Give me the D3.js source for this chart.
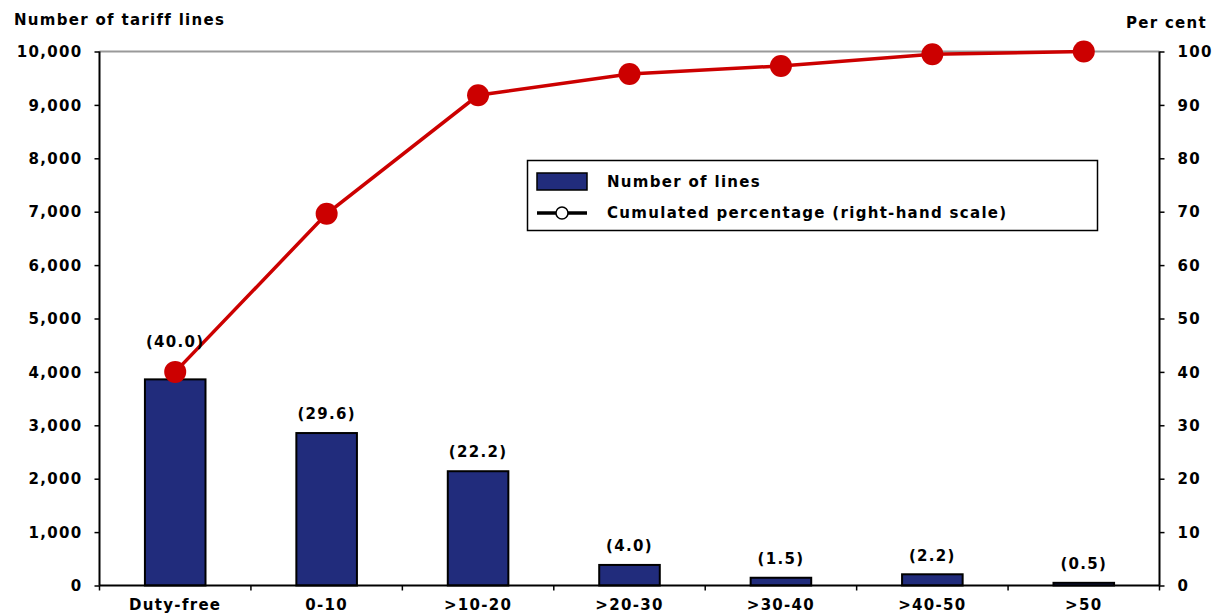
<!DOCTYPE html>
<html><head><meta charset="utf-8">
<script src="https://cdn.jsdelivr.net/npm/d3@7"></script>
<style>
body{margin:0;background:#fff;}
text{font-family:"DejaVu Sans",Verdana,sans-serif;font-weight:bold;font-size:15px;letter-spacing:1.3px;fill:#000;}
</style></head>
<body><svg id="c" width="1215" height="615"></svg>
<script>
const categories = ["Duty-free","0-10",">10-20",">20-30",">30-40",">40-50",">50"];
const lines = [3860, 2855, 2140, 385, 145, 210, 50];
const shares = ["(40.0)","(29.6)","(22.2)","(4.0)","(1.5)","(2.2)","(0.5)"];
const cumulated = [40.0, 69.6, 91.8, 95.8, 97.3, 99.5, 100.0];
const leftTicks = [0,1000,2000,3000,4000,5000,6000,7000,8000,9000,10000];
const rightTicks = [0,10,20,30,40,50,60,70,80,90,100];

const svg = d3.select("#c");
const L = 99.5, R = 1159.5, T = 51.5, B = 585.5;
const x = d3.scaleBand().domain(categories).range([L, R]).paddingInner(0.6).paddingOuter(0.3);
const xb = d3.scaleBand().domain(categories).range([L, R]);
const yL = d3.scaleLinear().domain([0, 10000]).range([B, T]);
const yR = d3.scaleLinear().domain([0, 100]).range([B, T]);
const navy = "#212C7C", red = "#CC0000";

// top border
svg.append("line").attr("x1", L).attr("x2", R).attr("y1", T).attr("y2", T).attr("stroke", "#999").attr("stroke-width", 2);

// bars
svg.selectAll("rect.bar").data(categories).join("rect").attr("class","bar")
  .attr("x", d => x(d)).attr("width", x.bandwidth())
  .attr("y", (d,i) => yL(lines[i])).attr("height", (d,i) => B - yL(lines[i]))
  .attr("fill", navy).attr("stroke", "#000").attr("stroke-width", 2);

// axes
const axL = svg.append("g").attr("transform", `translate(${L},0)`)
  .call(d3.axisLeft(yL).tickValues(leftTicks).tickFormat(d3.format(",")).tickSize(5).tickPadding(12));
const axR = svg.append("g").attr("transform", `translate(${R},0)`)
  .call(d3.axisRight(yR).tickValues(rightTicks).tickSize(5).tickPadding(13));
const axB = svg.append("g").attr("transform", `translate(0,${B})`)
  .call(d3.axisBottom(xb).tickSize(0).tickPadding(14));
[axL, axR, axB].forEach(g => {
  g.selectAll(".domain").attr("stroke", "#000").attr("stroke-width", 2);
  g.selectAll(".tick line").attr("stroke", "#000").attr("stroke-width", 1.5);
  g.selectAll("text").attr("font-size", null).attr("font-family", null).attr("fill", "#000");
});
axL.select(".domain").attr("d", `M0,${T}V${B}`);
axR.select(".domain").attr("d", `M0,${T}V${B}`);
axB.select(".domain").attr("d", `M${L},0H${R}`);
axL.selectAll(".tick text").attr("dy", "0.35em");
axR.selectAll(".tick text").attr("dy", "0.35em");
// category boundary ticks
svg.append("g").selectAll("line").data(d3.range(categories.length + 1)).join("line")
  .attr("x1", i => L + i * xb.step()).attr("x2", i => L + i * xb.step())
  .attr("y1", B).attr("y2", B + 5).attr("stroke", "#000").attr("stroke-width", 1.5);

// line + markers
const cx = d => x(d) + x.bandwidth() / 2;
svg.append("path").datum(categories)
  .attr("d", d3.line().x(d => cx(d)).y((d,i) => yR(cumulated[i])))
  .attr("fill", "none").attr("stroke", red).attr("stroke-width", 3.5);
const r = 11;
svg.selectAll("circle.pt").data(categories).join("circle").attr("class","pt")
  .attr("cx", d => cx(d)).attr("cy", (d,i) => yR(cumulated[i])).attr("r", r).attr("fill", red);

// share labels
svg.selectAll("text.share").data(categories).join("text").attr("class","share")
  .attr("x", d => cx(d)).attr("text-anchor", "middle").attr("dy", "0.35em")
  .attr("y", (d,i) => {
    let top = yL(lines[i]);
    const my = yR(cumulated[i]);
    if (my - r < top && my + r > top - 45) top = Math.min(top, my - r);
    return top - 19;
  })
  .text((d,i) => shares[i]);

// axis titles
svg.append("text").attr("x", 14).attr("y", 20).attr("dy", "0.35em").text("Number of tariff lines");
svg.append("text").attr("x", 1207).attr("y", 23).attr("dy", "0.35em").attr("text-anchor", "end").text("Per cent");

// legend
const lg = svg.append("g");
lg.append("rect").attr("x", 527.5).attr("y", 160.5).attr("width", 570).attr("height", 70)
  .attr("fill", "#fff").attr("stroke", "#000").attr("stroke-width", 1.5);
lg.append("rect").attr("x", 537).attr("y", 173).attr("width", 50).attr("height", 17)
  .attr("fill", navy).attr("stroke", "#000").attr("stroke-width", 1.5);
lg.append("text").attr("x", 607).attr("y", 182).attr("dy", "0.35em").text("Number of lines");
lg.append("line").attr("x1", 537).attr("x2", 587).attr("y1", 213).attr("y2", 213).attr("stroke", "#000").attr("stroke-width", 3.5);
lg.append("circle").attr("cx", 562).attr("cy", 213).attr("r", 6).attr("fill", "#fff").attr("stroke", "#000").attr("stroke-width", 1.5);
lg.append("text").attr("x", 607).attr("y", 213).attr("dy", "0.35em").text("Cumulated percentage (right-hand scale)");
</script></body></html>
